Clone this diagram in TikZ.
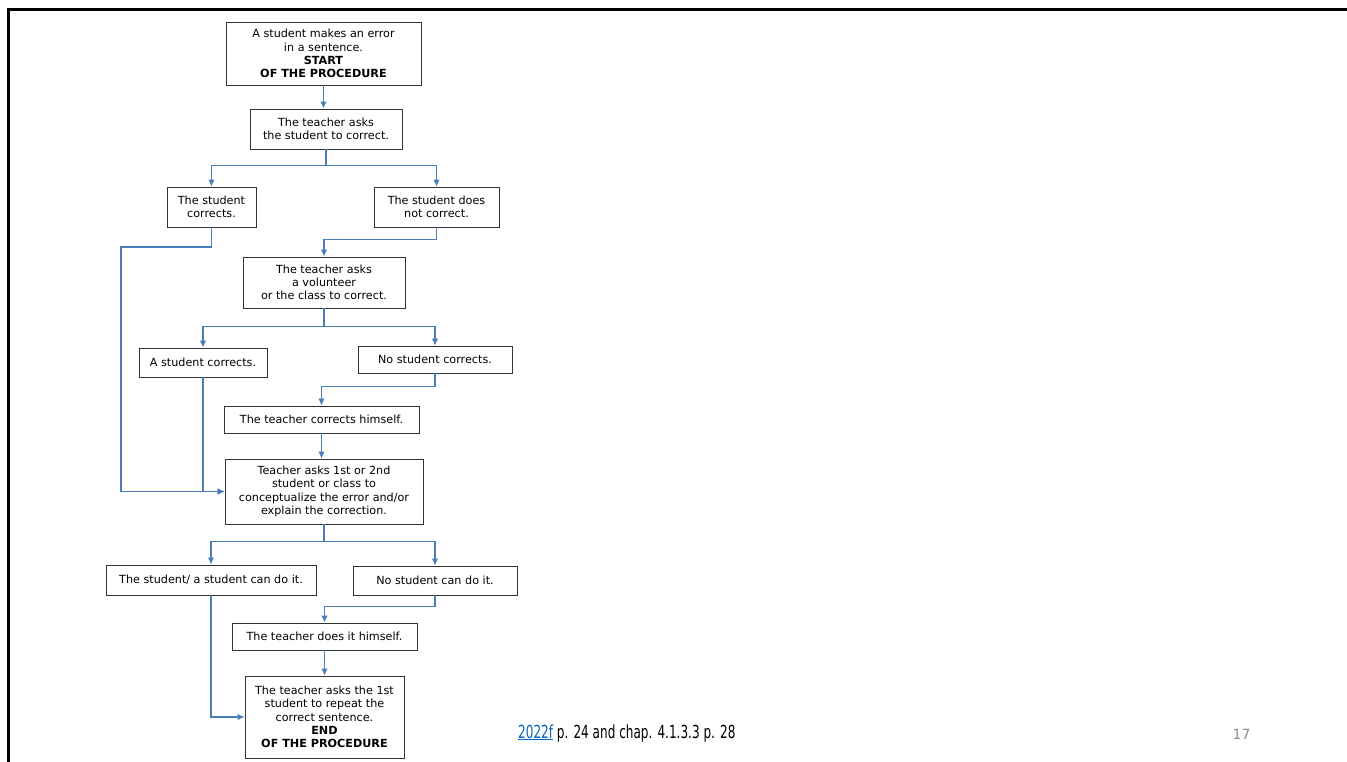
\documentclass[tikz,border=0pt]{standalone}
\usepackage{fontspec}
\setmainfont{DejaVu Sans}
\newfontfamily\footfont[FakeStretch=0.67]{DejaVu Sans}
\usetikzlibrary{arrows.meta}
\definecolor{flowblue}{HTML}{4A7EBB}
\definecolor{linkblue}{HTML}{0563C1}
\definecolor{pagegray}{HTML}{8C8C8C}
\begin{document}
\begin{tikzpicture}[x=1pt,y=-1pt,
  box/.style={draw=black!80,line width=0.9pt,align=center,inner sep=1pt,font=\fontsize{11.2}{13.3}\selectfont},
  flow/.style={draw=flowblue,line width=1.1pt,-{Latex[length=7pt,width=6.5pt]}}]
\useasboundingbox[fill=white](0,0) rectangle (1347,762);
\draw[line width=3pt](8.3,764)--(8.3,10)--(1349,10);
% boxes
\node[box,minimum width=195pt,minimum height=63pt](start)at(323.5,53.5){A student makes an error\\in a sentence.\\\textbf{START}\\\textbf{OF THE PROCEDURE}};
\node[box,minimum width=152pt,minimum height=40pt](ask)at(326,129){The teacher asks\\the student to correct.};
\node[box,minimum width=89pt,minimum height=40pt](corr)at(211.5,207){The student\\corrects.};
\node[box,minimum width=125pt,minimum height=40pt](nocorr)at(436.5,207){The student does\\not correct.};
\node[box,minimum width=162pt,minimum height=51pt](vol)at(324,282.5){The teacher asks\\a volunteer\\or the class to correct.};
\node[box,minimum width=128pt,minimum height=29pt](acorr)at(203,362.5){A student corrects.};
\node[box,minimum width=154pt,minimum height=27pt](nocorrs)at(435,359.5){No student corrects.};
\node[box,minimum width=195pt,minimum height=27pt](self)at(321.5,419.5){The teacher corrects himself.};
\node[box,minimum width=198pt,minimum height=65pt](conc)at(324,491.5){Teacher asks 1st or 2nd\\student or class to\\conceptualize the error and/or\\explain the correction.};
\node[box,minimum width=210pt,minimum height=30pt](can)at(211,580){The student/ a student can do it.};
\node[box,minimum width=164pt,minimum height=29pt](cannot)at(435,580.5){No student can do it.};
\node[box,minimum width=185pt,minimum height=27pt](does)at(324.5,636.5){The teacher does it himself.};
\node[box,minimum width=159pt,minimum height=82pt](end)at(324.5,717){The teacher asks the 1st\\student to repeat the\\correct sentence.\\\textbf{END}\\\textbf{OF THE PROCEDURE}};
% connectors
\coordinate(bend)at(121,247);
\draw[flow](start.south)--(start.south|-ask.north);
\draw[flow](ask.south)--++(0,16)-|(corr.north);
\draw[flow](ask.south)--++(0,16)-|(nocorr.north);
\draw[flow](corr.south)|-(bend)|-(conc.west);
\draw[flow](nocorr.south)--++(0,12)-|(vol.north);
\draw[flow](vol.south)--++(0,18)-|(acorr.north);
\draw[flow](vol.south)--++(0,18)-|(nocorrs.north);
\draw[flow](acorr.south)|-(conc.west);
\draw[flow](nocorrs.south)--++(0,13)-|(self.north);
\draw[flow](self.south)--(self.south|-conc.north);
\draw[flow](conc.south)--++(0,17)-|(can.north);
\draw[flow](conc.south)--++(0,17)-|(cannot.north);
\draw[flow](cannot.south)--++(0,11)-|(does.north);
\draw[flow](does.south)--(end.north);
\draw[flow](can.south)|-(end.west);
% footer
\node[anchor=base west,inner sep=0pt,font=\footfont\fontsize{18}{20}\selectfont](source)at(518,738){\textcolor{linkblue}{\underline{2022f}} p. 24 and chap. 4.1.3.3 p. 28};
\node[anchor=base,inner sep=0pt,text=pagegray,font=\fontsize{14}{16}\selectfont](page)at(1241.5,739){17};
\end{tikzpicture}
\end{document}
